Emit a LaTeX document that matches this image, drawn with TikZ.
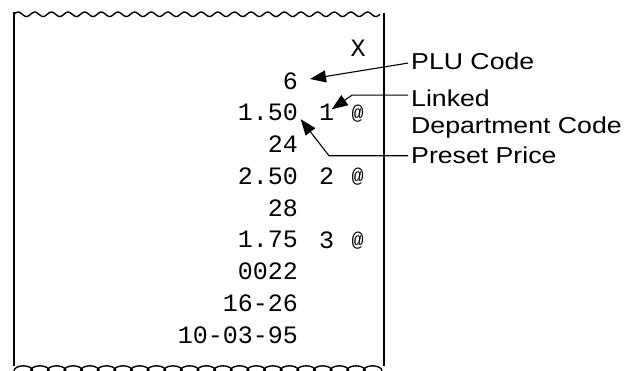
\documentclass[tikz,border=0pt]{standalone}
\usepackage{fontspec}
\usepackage{graphicx}
\usetikzlibrary{arrows.meta,calc}
\newfontfamily\rcptmono{Liberation Mono}
\newfontfamily\rcptsans{Liberation Sans}
\newcommand{\lab}[1]{\scalebox{1.16}[1]{#1}}
\begin{document}
\begin{tikzpicture}[x=1pt,y=-1pt,
  mono/.style={font=\rcptmono\fontsize{25}{25}\selectfont, inner sep=0pt},
  numcol/.style={mono, anchor=east},
  labtext/.style={font=\rcptsans\fontsize{23}{23}\selectfont, inner sep=0pt, anchor=base west},
  edge/.style={line width=2pt},
  wave/.style={line width=1.4pt},
  pointer/.style={line width=1.1pt, -{Triangle[length=16pt,width=12pt]}}
]
\useasboundingbox (0,0) rectangle (639,371);
% receipt edges
\draw[edge] (14,12) -- (14,366);
\draw[edge] (383.5,13) -- (383.5,366);
\draw[wave] plot[domain=0:138.23, samples=700] ({14+16.636*\x/(2*pi)},{14.3-2.2*sin(\x r)});
\draw[wave] plot[domain=0:138.23, samples=900] ({15+16.636*\x/(2*pi)-4*sin(\x r)},{368.5+2.6*cos(\x r)});
% receipt text
\node[mono] (x) at (358,48.5) {X};
\node[numcol] (six) at (298,80.8) {6};
\node[numcol] (p1) at (298,112.6) {1.50};
\node[mono] (d1) at (326.5,112.6) {1};
\node[mono, font=\rcptmono\fontsize{20}{20}\selectfont] (a1) at (357.5,113.5) {@};
\node[numcol] (n24) at (298,144.4) {24};
\node[numcol] (p2) at (298,176.2) {2.50};
\node[mono] (d2) at (326.5,176.2) {2};
\node[mono, font=\rcptmono\fontsize{20}{20}\selectfont] (a2) at (357.5,177.1) {@};
\node[numcol] (n28) at (298,208) {28};
\node[numcol] (p3) at (298,239.8) {1.75};
\node[mono] (d3) at (326.5,239.8) {3};
\node[mono, font=\rcptmono\fontsize{20}{20}\selectfont] (a3) at (357.5,240.7) {@};
\node[numcol] (n22) at (298,271.6) {0022};
\node[numcol] (tm) at (298,303.4) {16-26};
\node[numcol] (dt) at (298,335.2) {10-03-95};
% labels
\node[labtext] (plu) at (411,69.3) {\lab{PLU Code}};
\node[labtext] (linked) at (411,106.7) {\lab{Linked}};
\node[labtext] (dept) at (411,133.3) {\lab{Department Code}};
\node[labtext] (preset) at (411,164) {\lab{Preset Price}};
% pointers
\draw[pointer] ($(plu.west)+(-3,2)$) -- ($(six.east)+(12,-1.8)$);
\draw[pointer] ($(linked.west)+(-3,-3.3)$) -- ++(-56,0) -- ($(d1)+(5.2,-3.3)$);
\draw[pointer] ($(preset.west)+(-3,0)$) -- ++(-79,0) -- ($(p1.east)+(2.7,6.6)$);
\end{tikzpicture}
\end{document}
